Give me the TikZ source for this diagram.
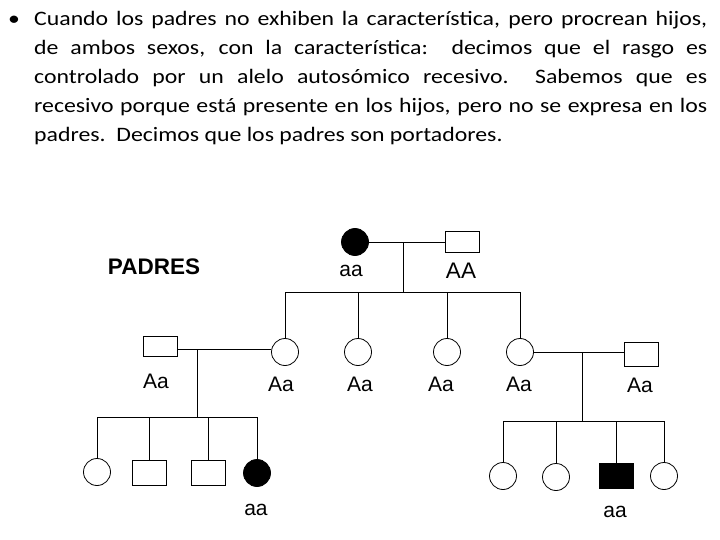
\documentclass[tikz,border=0pt]{standalone}
\usepackage{fontspec}
\setmainfont{Carlito}[FakeStretch=1.16]
\newfontfamily\arialfont{Liberation Sans}
\usepackage{tikz}
\usetikzlibrary{positioning}

\begin{document}
\begin{tikzpicture}[x=1pt, y=-1pt,
    fem/.style={draw, circle, minimum size=27pt, inner sep=0pt, line width=0.8pt},
    masc/.style={draw, rectangle, minimum width=34pt, minimum height=24pt, inner sep=0pt, line width=0.8pt},
    afec/.style={fill=black},
    geno/.style={font=\arialfont\fontsize{21}{21}\selectfont, inner sep=0pt},
    lin/.style={line width=0.8pt}]
    \useasboundingbox (0,0) rectangle (720,540);
    % texto
    \node[anchor=base west, inner sep=0pt, font=\fontsize{20.5}{29}\selectfont] (bala) at (8,26) {\textbullet};
    \node[anchor=north west, inner sep=0pt, text width=673pt, align=justify,
          font=\fontsize{20.5}{29}\selectfont] (texto) at (34,11)
      {Cuando los padres no exhiben la característica, pero procrean hijos,\linebreak
       de ambos sexos, con la característica:\ \ decimos que el rasgo es\linebreak
       controlado por un alelo autosómico recesivo.\ \ Sabemos que es\linebreak
       recesivo porque está presente en los hijos, pero no se expresa en los\linebreak
       padres.\ \ Decimos que los padres son portadores.\par};
    \node[font=\arialfont\bfseries\fontsize{22.5}{22.5}\selectfont, inner sep=0pt] (padres) at (154,267) {PADRES};
    % generacion I
    \node[fem, afec] (abuela) at (355,242) {};
    \node[masc, minimum height=21pt] (abuelo) at (462,242) {};
    \node[geno] (gAbuela) at (351,271) {aa};
    \node[geno, font=\arialfont\fontsize{22.5}{22.5}\selectfont] (gAbuelo) at (461,271) {AA};
    \draw[lin] (abuela) -- (abuelo);
    \coordinate (m1) at (403,242);
    \coordinate (s1) at (403,292);
    \draw[lin] (m1) -- (s1);
    % generacion II
    \node[fem] (h1) at (285,352) {};
    \node[fem] (h2) at (358,352) {};
    \node[fem] (h3) at (447,352) {};
    \node[fem] (h4) at (520,352) {};
    \node[masc, minimum height=20pt] (esp1) at (160,346) {};
    \node[masc] (esp2) at (641,354) {};
    \foreach \n/\x in {h1/281, h2/360, h3/441, h4/519}
      \node[geno] (g\n) at (\x,384) {Aa};
    \node[geno] (gEsp1) at (156,381) {Aa};
    \node[geno] (gEsp2) at (640,385) {Aa};
    \draw[lin] (h1.north |- s1) -- (h4.north |- s1);
    \foreach \n in {h1,h2,h3,h4}
      \draw[lin] (\n.north |- s1) -- (\n.north);
    \draw[lin] (esp1.east |- 0,349) -- (h1.west |- 0,349);
    \draw[lin] (h4) -- (esp2.west |- h4);
    % generacion III izquierda
    \coordinate (m2) at (197,349);
    \coordinate (s2) at (197,417);
    \draw[lin] (m2) -- (s2);
    \node[fem] (n1) at (97,472) {};
    \node[masc, minimum height=25pt] (n2) at (149,473) {};
    \node[masc, minimum height=25pt] (n3) at (208,473) {};
    \node[fem, afec] (n4) at (257,473) {};
    \node[geno] (gN4) at (256,510) {aa};
    \draw[lin] (n1.north |- s2) -- (n4.north |- s2);
    \foreach \n in {n1,n2,n3,n4}
      \draw[lin] (\n.north |- s2) -- (\n.north);
    % generacion III derecha
    \coordinate (m3) at (582,352);
    \coordinate (s3) at (582,421);
    \draw[lin] (m3) -- (s3);
    \node[fem] (r1) at (503,476) {};
    \node[fem] (r2) at (556,477) {};
    \node[masc, afec, minimum height=25pt] (r3) at (616,476) {};
    \node[fem] (r4) at (664,476) {};
    \node[geno] (gR3) at (615,512) {aa};
    \draw[lin] (r1.north |- s3) -- (r4.north |- s3);
    \foreach \n in {r1,r2,r3,r4}
      \draw[lin] (\n.north |- s3) -- (\n.north);
\end{tikzpicture}
\end{document}
